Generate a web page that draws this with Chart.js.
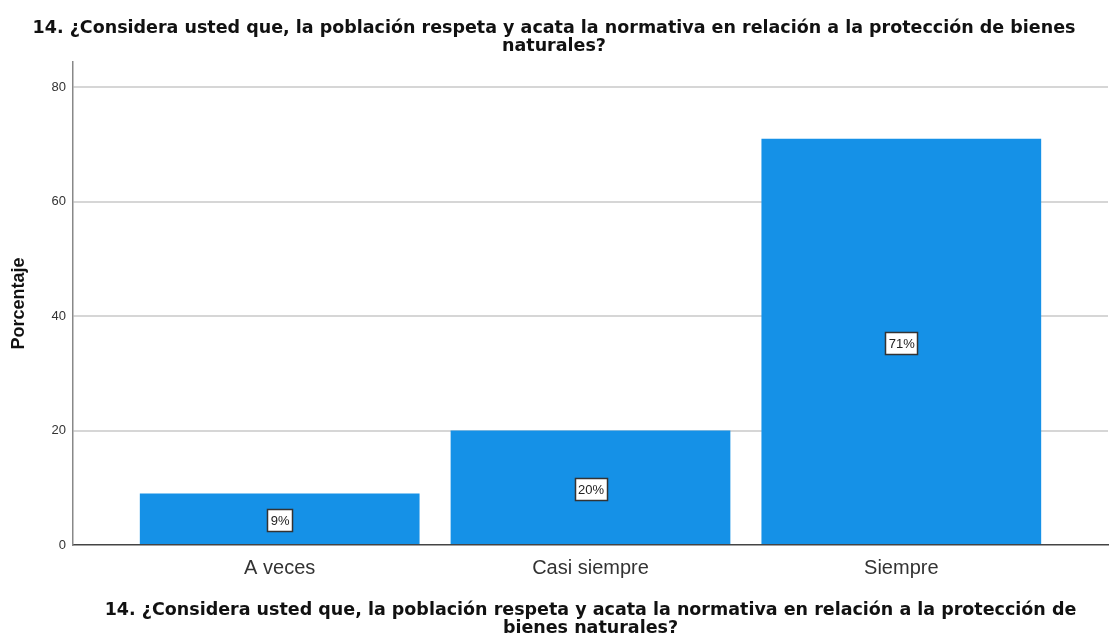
<!DOCTYPE html>
<html>
<head>
<meta charset="utf-8">
<script src="https://cdn.jsdelivr.net/npm/chart.js@4/dist/chart.umd.min.js"></script>
<style>
  html, body { margin: 0; padding: 0; background: #fff; }
  #wrap { width: 1111px; height: 639px; }
</style>
</head>
<body>
<div id="wrap"><canvas id="chart" width="1111" height="639"></canvas></div>
<script>
var questionTitle = ['14. ¿Considera usted que, la población respeta y acata la normativa en relación a la protección de bienes', 'naturales?'];
var axisTitle = ['14. ¿Considera usted que, la población respeta y acata la normativa en relación a la protección de', 'bienes naturales?'];
var categories = ['A veces', 'Casi siempre', 'Siempre'];
var percentages = [9, 20, 71];
var yTickValues = [0, 20, 40, 60, 80];

// white boxed percentage labels in the middle of each bar
var boxLabels = {
    id: 'boxLabels',
    afterDatasetsDraw: function (chart) {
        var ctx = chart.ctx;
        var meta = chart.getDatasetMeta(0);
        var yScale = chart.scales.y;
        ctx.save();
        ctx.font = '13px "Liberation Sans", Arial, sans-serif';
        ctx.textAlign = 'center';
        ctx.textBaseline = 'middle';
        meta.data.forEach(function (bar, i) {
            var txt = percentages[i] + '%';
            var cy = Math.round(yScale.getPixelForValue(percentages[i] / 2)) + 1;
            var w = Math.round(ctx.measureText(txt).width + 6);
            var h = 22;
            var x0 = Math.round(bar.x - w / 2);
            ctx.fillStyle = '#ffffff';
            ctx.fillRect(x0, cy - h / 2, w, h);
            ctx.strokeStyle = '#333333';
            ctx.lineWidth = 1.5;
            ctx.strokeRect(x0 + 0.5, cy - h / 2 + 0.5, w, h);
            ctx.fillStyle = '#222222';
            ctx.fillText(txt, bar.x + 0.5, cy + 1);
        });
        ctx.restore();
    }
};

var titleFont = { family: '"DejaVu Sans", sans-serif', size: 17.5, weight: 'bold', lineHeight: 1.0 };

var ctx = document.getElementById('chart').getContext('2d');
var chart = new Chart(ctx, {
    type: 'bar',
    data: {
        datasets: [{
            data: percentages.map(function (v, i) { return { x: i, y: v }; }),
            backgroundColor: '#1591e7',
            borderWidth: 0,
            barPercentage: 0.9,
            categoryPercentage: 1
        }]
    },
    options: {
        responsive: false,
        animation: false,
        layout: { padding: { left: 0, right: 3, top: 0, bottom: 2 } },
        plugins: {
            legend: { display: false },
            tooltip: { enabled: false },
            title: {
                display: true,
                text: questionTitle,
                color: '#111',
                font: titleFont,
                padding: { top: 20, bottom: 7 }
            }
        },
        scales: {
            x: {
                type: 'linear',
                offset: false,
                min: -0.665,
                max: 2.665,
                afterBuildTicks: function (scale) {
                    scale.ticks = categories.map(function (c, i) { return { value: i }; });
                },
                afterFit: function (scale) { scale.height = 92; },
                grid: { display: false },
                border: { display: true, color: '#444', width: 1.5 },
                ticks: {
                    color: '#333',
                    padding: 3,
                    autoSkip: false,
                    maxRotation: 0,
                    font: { family: '"Liberation Sans", Arial, sans-serif', size: 20 },
                    callback: function (value) { return categories[value]; }
                },
                title: {
                    display: true,
                    text: axisTitle,
                    color: '#111',
                    font: { family: '"DejaVu Sans", sans-serif', size: 17.5, weight: 'bold', lineHeight: 1.03 },
                    padding: { top: 0, bottom: 0 }
                }
            },
            y: {
                min: 0,
                max: 84.4,
                afterBuildTicks: function (scale) {
                    scale.ticks = yTickValues.map(function (v) { return { value: v }; });
                },
                afterFit: function (scale) { scale.width = 73; },
                grid: {
                    drawTicks: false,
                    lineWidth: 2,
                    color: function (c) { return c.tick && c.tick.value === 0 ? 'rgba(0,0,0,0)' : '#d6d6d6'; }
                },
                border: { display: true, color: '#888', width: 1.5 },
                ticks: {
                    color: '#333',
                    padding: 7,
                    font: { family: '"Liberation Sans", Arial, sans-serif', size: 13 }
                },
                title: {
                    display: true,
                    text: 'Porcentaje',
                    color: '#111',
                    font: { family: '"Liberation Sans", Arial, sans-serif', size: 18, weight: 'bold', lineHeight: 1.2 },
                    padding: { top: 8, bottom: 0 }
                }
            }
        }
    },
    plugins: [boxLabels]
});
</script>
</body>
</html>
